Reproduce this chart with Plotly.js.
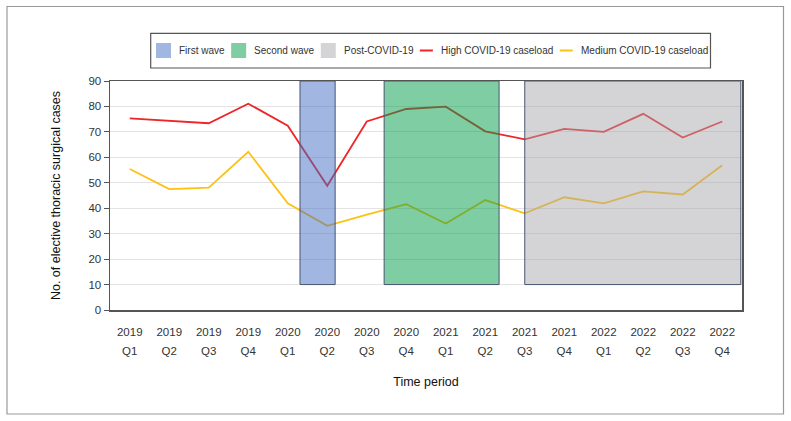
<!DOCTYPE html>
<html>
<head>
<meta charset="utf-8">
<script src="https://cdn.plot.ly/plotly-3.0.1.min.js"></script>
<style>html,body{margin:0;padding:0;background:#fff;}#chart{width:791px;height:421px;}</style>
</head>
<body>
<div id="chart"></div>
<script>
// ---- data ----
var years = ["2019","2019","2019","2019","2020","2020","2020","2020","2021","2021","2021","2021","2022","2022","2022","2022"];
var quarters = ["Q1","Q2","Q3","Q4","Q1","Q2","Q3","Q4","Q1","Q2","Q3","Q4","Q1","Q2","Q3","Q4"];
var highCaseload = [75.3, 74.4, 73.4, 81.1, 72.4, 48.8, 74.1, 79.0, 79.9, 70.2, 67.1, 71.2, 70.0, 77.1, 67.8, 74.1];
var mediumCaseload = [55.4, 47.5, 48.1, 62.2, 41.9, 33.1, 37.5, 41.6, 34.0, 43.2, 38.0, 44.3, 41.9, 46.6, 45.4, 56.9];
var seriesNames = ["High COVID-19 caseload", "Medium COVID-19 caseload"];
var bandNames = ["First wave", "Second wave", "Post-COVID-19"];
var bandStart = [4.31, 6.44, 10.0];   // in category-index units
var bandEnd = [5.20, 9.35, 15.47];
var bandLow = 10;
var bandHigh = 90;
var yTicks = [0, 10, 20, 30, 40, 50, 60, 70, 80, 90];

// ---- build ----
var FONT = "Liberation Sans, Arial, sans-serif";
var W = 791, H = 421, ML = 110, MR = 49, MT = 81, MB = 111;
var PW = W - ML - MR, PH = H - MT - MB;
function px(x) { return (x - ML) / PW; }
function py(y) { return (H - MB - y) / PH; }

var idx = years.map(function (_, i) { return i; });
var seriesColors = ["rgb(238,38,42)", "rgb(255,192,20)"];
var bandFill = ["rgba(68,110,195,0.5)", "rgba(0,155,70,0.5)", "rgba(165,165,170,0.48)"];
var bandEdge = "rgb(72,86,112)";

var traces = [
  {x: idx, y: highCaseload, type: "scatter", mode: "lines", name: seriesNames[0],
   line: {color: seriesColors[0], width: 1.8}, xaxis: "x", yaxis: "y", hoverinfo: "skip"},
  {x: idx, y: mediumCaseload, type: "scatter", mode: "lines", name: seriesNames[1],
   line: {color: seriesColors[1], width: 1.8}, xaxis: "x", yaxis: "y", hoverinfo: "skip"}
];
var shapes = [];
var annotations = [];
bandNames.forEach(function (n, i) {
  traces.push({
    x: [(bandStart[i] + bandEnd[i]) / 2], y: [bandHigh - bandLow], base: bandLow,
    width: [bandEnd[i] - bandStart[i]], type: "bar", name: n,
    marker: {color: bandFill[i], line: {width: 0}},
    xaxis: "x", yaxis: "y2", hoverinfo: "skip"
  });
  shapes.push({type: "rect", xref: "x", yref: "y", x0: bandStart[i], x1: bandEnd[i],
    y0: bandLow, y1: bandHigh, line: {color: bandEdge, width: 1}, fillcolor: "rgba(0,0,0,0)", layer: "above"});
});
// quarter labels on second x axis
traces.push({x: idx, y: idx.map(function(){return null;}), type: "scatter", mode: "lines",
  xaxis: "x2", yaxis: "y", showlegend: false, hoverinfo: "skip"});

// ---- legend (drawn as shapes + annotations to match the compact layout) ----
var legendLabels = bandNames.concat(seriesNames);
var legendKinds = ["box", "box", "box", "line", "line"];
var legendColors = bandFill.concat(seriesColors);
var canvas = document.createElement("canvas");
var ctx = canvas.getContext("2d");
var left = 156, right = 706, rowY = 50.5, fs = 11;
var swW = {box: 15, line: 13}, gapST = 6, gap;
function layoutWidth(size) {
  ctx.font = size + "px Liberation Sans";
  var tw = legendLabels.map(function (t) { return ctx.measureText(t).width; });
  var tot = 0;
  tw.forEach(function (w, i) { tot += swW[legendKinds[i]] + gapST + w; });
  return {tw: tw, tot: tot};
}
var lw = layoutWidth(fs);
while ((right - left - lw.tot) / 4 < 7 && fs > 8) { fs -= 0.25; lw = layoutWidth(fs); }
gap = (right - left - lw.tot) / 4;
var cx = left;
legendLabels.forEach(function (t, i) {
  var k = legendKinds[i];
  if (k === "box") {
    shapes.push({type: "rect", xref: "paper", yref: "paper", x0: px(cx), x1: px(cx + 15),
      y0: py(rowY + 7.5), y1: py(rowY - 7.5), line: {width: 0}, fillcolor: legendColors[i]});
  } else {
    shapes.push({type: "line", xref: "paper", yref: "paper", x0: px(cx), x1: px(cx + 13),
      y0: py(rowY), y1: py(rowY), line: {width: 2, color: legendColors[i]}});
  }
  cx += swW[k] + gapST;
  annotations.push({text: t, xref: "paper", yref: "paper", x: px(cx), y: py(rowY),
    xanchor: "left", yanchor: "middle", showarrow: false,
    font: {family: FONT, size: fs, color: "#333"}});
  cx += lw.tw[i] + gap;
});

// legend box and outer frame
shapes.push({type: "rect", xref: "paper", yref: "paper", x0: px(150.7), x1: px(710.5), y0: py(68), y1: py(33.3),
  line: {color: "#555", width: 1.2}, fillcolor: "rgba(0,0,0,0)"});
shapes.push({type: "rect", xref: "paper", yref: "paper", x0: px(7), x1: px(783.5), y0: py(414), y1: py(6.5),
  line: {color: "#999", width: 1.2}, fillcolor: "rgba(0,0,0,0)"});

var tickFont = {family: FONT, size: 11.5, color: "#333"};
var layout = {
  width: W, height: H,
  margin: {l: ML, r: MR, t: MT, b: MB},
  paper_bgcolor: "#fff", plot_bgcolor: "#fff",
  font: {family: FONT, color: "#222"},
  showlegend: false,
  barmode: "overlay",
  xaxis: {range: [-0.5, 15.5], tickvals: idx, ticktext: years, tickfont: tickFont,
    showgrid: false, zeroline: false, showline: true, linecolor: "#555", linewidth: 1.5,
    mirror: true, ticks: "", ticklabelstandoff: 11,
    title: {text: "Time period", font: {family: FONT, size: 12.5, color: "#111"}, standoff: 40}},
  xaxis2: {range: [-0.5, 15.5], overlaying: "x", side: "bottom", anchor: "y",
    tickvals: idx, ticktext: quarters, tickfont: tickFont, showgrid: false,
    zeroline: false, showline: false, ticks: "", ticklabelstandoff: 32},
  yaxis: {range: [0, 90], tickvals: yTicks, tickfont: tickFont, showgrid: true,
    gridcolor: "#e3e3e3", gridwidth: 1, zeroline: false, showline: true, linecolor: "#555",
    linewidth: 1.5, mirror: true, ticks: "outside", ticklen: 5, tickcolor: "#555",
    title: {text: "No. of elective thoracic surgical cases", font: {family: FONT, size: 12.5, color: "#111"}, standoff: 25}},
  yaxis2: {range: [0, 90], overlaying: "y", showgrid: false, showticklabels: false,
    zeroline: false, showline: false, ticks: ""},
  shapes: shapes,
  annotations: annotations
};
Plotly.newPlot("chart", traces, layout, {displayModeBar: false, staticPlot: true});
</script>
</body>
</html>
